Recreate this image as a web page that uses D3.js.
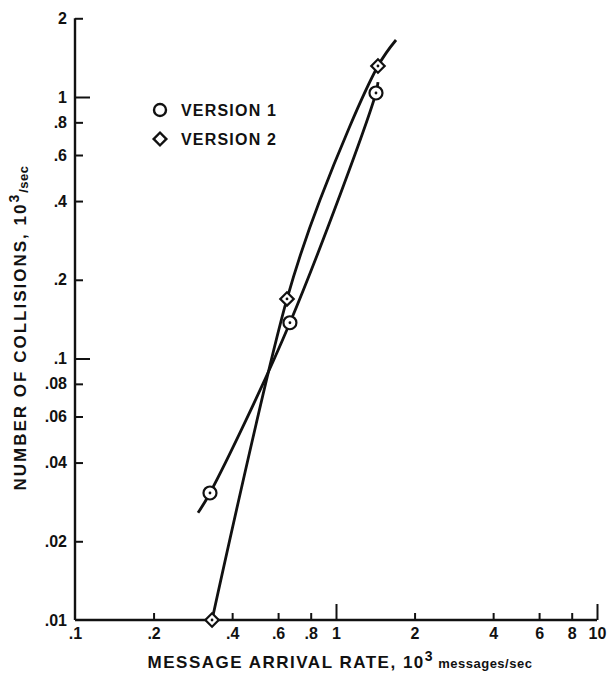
<!DOCTYPE html>
<html>
<head>
<meta charset="utf-8">
<script src="https://cdn.jsdelivr.net/npm/d3@7"></script>
<style>
  body { margin: 0; background: #fff; }
  svg { display: block; }
  text { font-family: "Liberation Sans", Arial, sans-serif; font-weight: bold; fill: #111; }
</style>
</head>
<body>
<svg id="chart" width="609" height="676"></svg>
<script>
// measured points (x: 10^3 messages/sec, y: 10^3 collisions/sec)
const version1X = [0.329, 0.666, 1.423];
const version1Y = [0.0306, 0.137, 1.036];
const version2X = [0.335, 0.649, 1.448];
const version2Y = [0.01, 0.169, 1.314];

// hand-drawn fitted curves
const curve1X = [0.296, 0.329, 0.666, 1.423, 1.448];
const curve1Y = [0.0257, 0.0306, 0.137, 1.036, 1.14];
const curve2X = [0.335, 0.649, 0.868, 1.448, 1.698];
const curve2Y = [0.01, 0.169, 0.404, 1.314, 1.652];

// axes
const xLabelValues = [0.1, 0.2, 0.4, 0.6, 0.8, 1, 2, 4, 6, 8, 10];
const xLabelText = [".1", ".2", ".4", ".6", ".8", "1", "2", "4", "6", "8", "10"];
const xMinorTicks = [0.2, 0.4, 0.6, 0.8, 2, 4, 6, 8];
const xMajorTicks = [1, 10];
const yLabelValues = [0.01, 0.02, 0.04, 0.06, 0.08, 0.1, 0.2, 0.4, 0.6, 0.8, 1, 2];
const yLabelText = [".01", ".02", ".04", ".06", ".08", ".1", ".2", ".4", ".6", ".8", "1", "2"];
const yMinorTicks = [0.02, 0.04, 0.06, 0.08, 0.2, 0.4, 0.6, 0.8, 2];
const yMajorTicks = [0.1, 1];

const legendItems = ["VERSION 1", "VERSION 2"];

const svg = d3.select("#chart");

const x = d3.scaleLog().domain([0.1, 10]).range([75, 597]);
const y = d3.scaleLog().domain([0.01, 1]).range([620, 97]);

// x axis: line + ticks pointing up
const gx = svg.append("g").attr("transform", `translate(0,${y(0.01)})`);
gx.append("line")
  .attr("x1", x(0.1)).attr("x2", x(10))
  .attr("stroke", "#111").attr("stroke-width", 2.4);
gx.append("g")
  .call(d3.axisBottom(x).tickValues(xMinorTicks).tickSize(-7).tickSizeOuter(0).tickFormat(""))
  .call(g => g.select(".domain").remove());
gx.append("g")
  .call(d3.axisBottom(x).tickValues(xMajorTicks).tickSize(-16).tickSizeOuter(0).tickFormat(""))
  .call(g => g.select(".domain").remove());
gx.selectAll(".tick line").attr("stroke", "#111").attr("stroke-width", 2);
gx.append("g")
  .call(d3.axisBottom(x).tickValues(xLabelValues).tickSize(0).tickPadding(8)
    .tickFormat((d, i) => xLabelText[i]))
  .call(g => g.select(".domain").remove())
  .selectAll("text")
  .style("font-size", "16px").style("font-family", null).attr("fill", "#111");

// y axis: line + ticks pointing right
const gy = svg.append("g").attr("transform", `translate(${x(0.1)},0)`);
gy.append("line")
  .attr("y1", y(0.01)).attr("y2", y(2))
  .attr("stroke", "#111").attr("stroke-width", 2.4);
gy.append("g")
  .call(d3.axisLeft(y).tickValues(yMinorTicks).tickSize(-8).tickSizeOuter(0).tickFormat(""))
  .call(g => g.select(".domain").remove());
gy.append("g")
  .call(d3.axisLeft(y).tickValues(yMajorTicks).tickSize(-15).tickSizeOuter(0).tickFormat(""))
  .call(g => g.select(".domain").remove());
gy.selectAll(".tick line").attr("stroke", "#111").attr("stroke-width", 2);
gy.append("g")
  .call(d3.axisLeft(y).tickValues(yLabelValues).tickSize(0).tickPadding(8)
    .tickFormat((d, i) => yLabelText[i]))
  .call(g => g.select(".domain").remove())
  .selectAll("text")
  .style("font-size", "16px").style("font-family", null).attr("fill", "#111");

// curves
const line = d3.line()
  .x(d => x(d[0])).y(d => y(d[1]))
  .curve(d3.curveCatmullRom.alpha(0.5));

[[curve1X, curve1Y], [curve2X, curve2Y]].forEach(([cx, cy]) => {
  svg.append("path")
    .datum(d3.zip(cx, cy))
    .attr("d", line)
    .attr("fill", "none")
    .attr("stroke", "#111")
    .attr("stroke-width", 2.8);
});

// markers
const circleMark = (g) => {
  g.append("circle").attr("r", 6.5).attr("fill", "#fff").attr("stroke", "#111").attr("stroke-width", 2.2);
  g.append("circle").attr("r", 1.4).attr("fill", "#111");
};
const diamondMark = (g) => {
  g.append("path").attr("d", d3.symbol(d3.symbolSquare, 90)())
    .attr("transform", "rotate(45)")
    .attr("fill", "#fff").attr("stroke", "#111").attr("stroke-width", 2.2);
  g.append("circle").attr("r", 1.4).attr("fill", "#111");
};

svg.append("g").selectAll("g")
  .data(d3.zip(version1X, version1Y))
  .join("g")
  .attr("transform", d => `translate(${x(d[0])},${y(d[1])})`)
  .each(function () { circleMark(d3.select(this)); });

svg.append("g").selectAll("g")
  .data(d3.zip(version2X, version2Y))
  .join("g")
  .attr("transform", d => `translate(${x(d[0])},${y(d[1])})`)
  .each(function () { diamondMark(d3.select(this)); });

// legend
const legend = svg.append("g").attr("transform", "translate(160,110)");
legendItems.forEach((label, i) => {
  const row = legend.append("g").attr("transform", `translate(0,${i * 29})`);
  if (i === 0) {
    row.append("circle").attr("r", 6).attr("fill", "none").attr("stroke", "#111").attr("stroke-width", 2.4);
  } else {
    row.append("path").attr("d", d3.symbol(d3.symbolSquare, 80)())
      .attr("transform", "rotate(45)")
      .attr("fill", "none").attr("stroke", "#111").attr("stroke-width", 2.4);
  }
  row.append("text").attr("x", 21).attr("dy", "0.36em")
    .style("font-size", "16px").style("letter-spacing", "1.2px").text(label);
});

// axis titles
const xt = svg.append("text")
  .attr("x", 340).attr("y", 668)
  .attr("text-anchor", "middle")
  .style("font-size", "17px").style("letter-spacing", "1.5px");
xt.append("tspan").text("MESSAGE ARRIVAL RATE, 10");
xt.append("tspan").attr("dy", -7).style("font-size", "14px").text("3");
xt.append("tspan").attr("dy", 7).style("font-size", "13px").style("letter-spacing", "0.5px").text(" messages/sec");

const yt = svg.append("text")
  .attr("transform", "translate(26,328) rotate(-90)")
  .attr("text-anchor", "middle")
  .style("font-size", "17px").style("letter-spacing", "2px");
yt.append("tspan").text("NUMBER OF COLLISIONS, 10");
yt.append("tspan").attr("dy", -7).style("font-size", "14px").text("3");
yt.append("tspan").attr("dy", 9).style("font-size", "13px").style("letter-spacing", "0.5px").text("/sec");
</script>
</body>
</html>
